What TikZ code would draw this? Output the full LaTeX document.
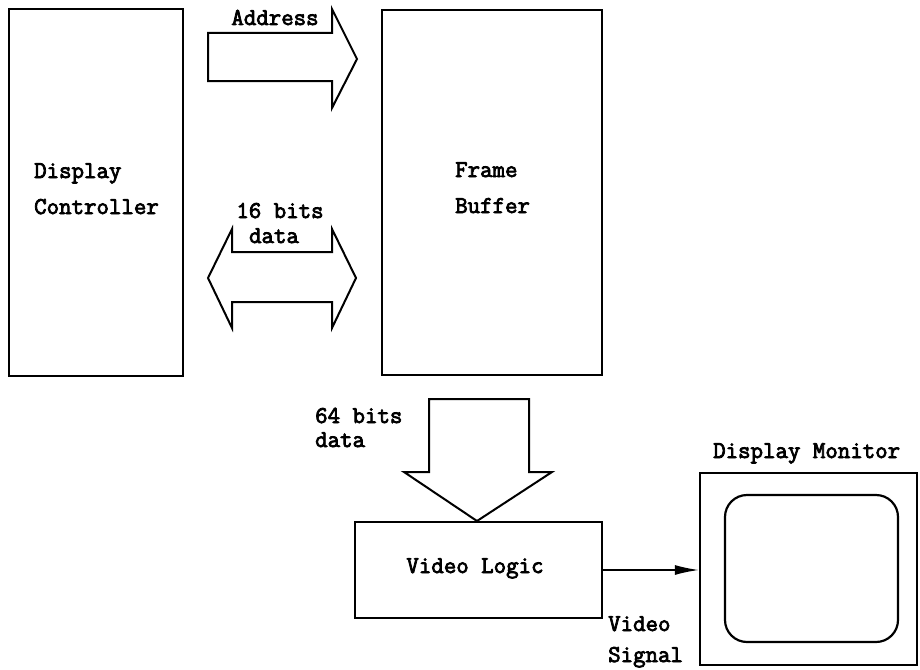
\documentclass[tikz,border=0pt]{standalone}
\usepackage{fontspec}
\newfontfamily\typew[FakeBold=3.2]{Latin Modern Mono}
\usetikzlibrary{arrows.meta}
\begin{document}
\begin{tikzpicture}[x=1pt,y=-1pt,
  box/.style={draw,line width=2.2pt,inner sep=0pt},
  lbl/.style={inner sep=0pt,font=\fontsize{24.2}{24.2}\selectfont\typew},
  blk/.style={draw,line width=2pt,line join=miter}]
\useasboundingbox (0,0) rectangle (920,669);
% boxes
\node[box,minimum width=174pt,minimum height=367pt] (dc) at (96,192.5) {};
\node[box,minimum width=220pt,minimum height=365pt] (fb) at (492,192.5) {};
\node[box,minimum width=247pt,minimum height=96pt] (vl) at (478.5,570) {};
\node[box,minimum width=217pt,minimum height=192pt] (mon) at (808.5,569) {};
\node[box,rounded corners=22pt,minimum width=173pt,minimum height=147pt] (scr) at (811.5,568.5) {};
% labels
\node[lbl,anchor=base west] (t1) at (34,178) {Display};
\node[lbl,anchor=base west] (t2) at (34,214) {Controller};
\node[lbl,anchor=base west] (t3) at (455,177) {Frame};
\node[lbl,anchor=base west] (t4) at (455,213) {Buffer};
\node[lbl,anchor=base] (t5) at (275,25) {Address};
\node[lbl,anchor=base] (t6) at (280,218) {16 bits};
\node[lbl,anchor=base] (t7) at (274,243) {data};
\node[lbl,anchor=base west] (t8) at (315,423) {64 bits};
\node[lbl,anchor=base west] (t9) at (315,447) {data};
\node[lbl,anchor=base] (t10) at (475,573) {Video Logic};
\node[lbl,anchor=base west] (t11) at (713,458) {Display Monitor};
\node[lbl,anchor=base west] (t12) at (608,631) {Video};
\node[lbl,anchor=base west] (t13) at (608,662) {Signal};
% block arrows
\draw[blk] (208,33) -- (332,33) -- (332,9) -- (357,59) -- (332,108) -- (332,81) -- (208,81) -- cycle;
\draw[blk] (208,278) -- (232,229) -- (232,252) -- (332,252) -- (332,229) -- (356,278) -- (332,328) -- (332,302) -- (232,302) -- (232,328) -- cycle;
\draw[blk] (429,399) -- (529,399) -- (529,472) -- (552,472) -- (477,521) -- (404,472) -- (429,472) -- cycle;
% video signal
\draw[line width=1.6pt,-{Latex[length=24pt,width=10pt]}] (vl.east) -- (vl.east -| mon.west);
\end{tikzpicture}
\end{document}
